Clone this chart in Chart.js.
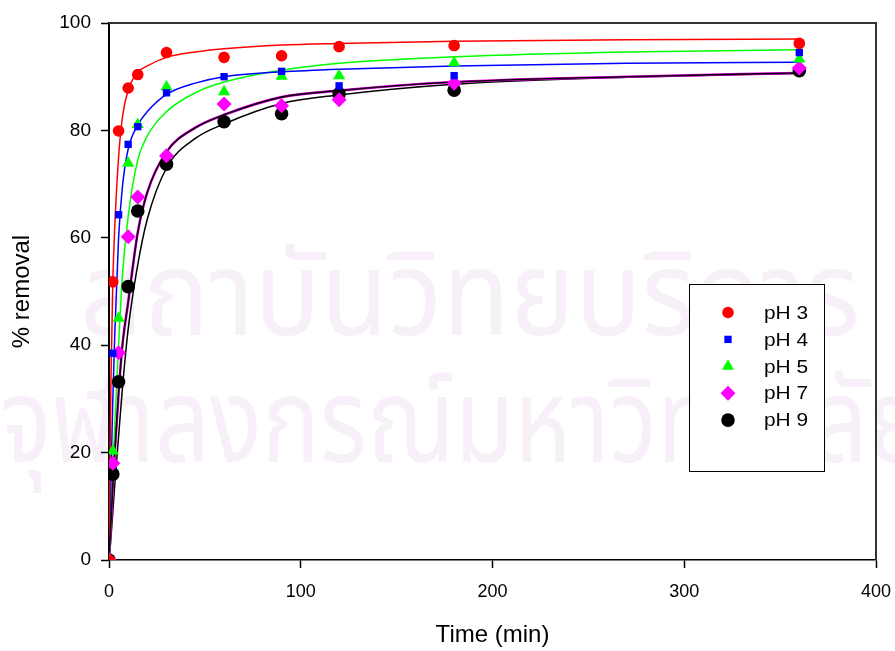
<!DOCTYPE html>
<html><head><meta charset="utf-8">
<script src="https://cdn.jsdelivr.net/npm/chart.js@4.4.1/dist/chart.umd.min.js"></script>
<style>html,body{margin:0;padding:0;background:#fff;overflow:hidden}</style>
</head><body>
<canvas id="c" width="895" height="651"></canvas>
<script>
// ---- data ----
const seriesNames = ['pH 3', 'pH 4', 'pH 5', 'pH 7', 'pH 9'];
const times = [0, 2, 5, 10, 15, 30, 60, 90, 120, 180, 360];
const pH3 = [0, 51.8, 79.9, 87.9, 90.4, 94.5, 93.6, 93.9, 95.6, 95.8, 96.2];
const pH4 = [0, 38.5, 64.3, 77.4, 80.7, 87.0, 90.0, 91.0, 88.3, 90.2, 94.5];
const pH5 = [0, 20.3, 45.0, 73.9, 81.1, 88.1, 87.2, 90.1, 90.2, 92.6, 93.3];
const pH7 = [0, 18.0, 38.6, 60.2, 67.6, 75.3, 84.9, 84.6, 85.7, 88.8, 91.6];
const pH9 = [0, 16.0, 33.2, 50.9, 65.0, 73.7, 81.6, 83.1, 86.8, 87.5, 91.1];

// fitted curves at these times
const curveTimes = [0, 1, 2, 3, 5, 7, 10, 15, 20, 30, 45, 60, 90, 120, 180, 270, 360];
const fit3 = [0, 33, 52, 62, 75, 82.5, 87.5, 90.8, 92.0, 93.6, 94.6, 95.2, 95.9, 96.2, 96.6, 96.9, 97.0];
const fit4 = [0, 15, 30, 42, 60, 69.5, 76.5, 81.0, 83.5, 86.7, 88.8, 90.0, 90.9, 91.4, 92.0, 92.5, 92.7];
const fit5 = [0, 8, 17, 25, 40, 53, 64, 74.5, 79, 83.5, 87, 89, 91.2, 92.5, 93.7, 94.6, 95.0];
const fit7 = [0, 7, 14, 20, 31, 40, 48, 61, 68.5, 76, 80.5, 82.9, 86.2, 87.4, 89.0, 90.0, 90.7];
const fit9 = [0, 4, 9, 14, 23, 32, 43, 55, 63.5, 73, 78.5, 81.2, 85.0, 86.6, 88.6, 89.9, 90.6];

const xTicks = [0, 100, 200, 300, 400];
const yTicks = [0, 20, 40, 60, 80, 100];
const xTitle = 'Time (min)';
const yTitle = '% removal';
const watermark = ['สถาบันวิทยบริการ', 'จุฬาลงกรณ์มหาวิทยาลัย'];

// ---- build datasets ----
const pts = (xs, ys) => xs.map((x, i) => ({x, y: ys[i]}));
const markerStyles = [
  {color: '#ff0000', style: 'circle', r: 5.8},
  {color: '#0000ff', style: 'rect', r: 5.2},
  {color: '#00ff00', style: 'triangle', r: 7},
  {color: '#ff00ff', style: 'rectRot', r: 7.5},
  {color: '#000000', style: 'circle', r: 6.8}
];
const pointSeries = [pH3, pH4, pH5, pH7, pH9];
const fitSeries = [fit3, fit4, fit5, fit7, fit9];
const fitColors = ['#ff0000', '#0000ff', '#00ff00', '#ff00ff', '#000000'];

const datasets = [];
fitSeries.forEach((f, i) => {
  datasets.push({
    label: seriesNames[i] + ' fit', data: pts(curveTimes, f), showLine: true,
    borderColor: fitColors[i], borderWidth: i === 3 ? 2.6 : 1.5, pointRadius: 0,
    cubicInterpolationMode: 'monotone', order: 2
  });
});
// dark core of the pH 7 curve
datasets.push({
  label: 'pH 7 fit core', data: pts(curveTimes, fit7), showLine: true,
  borderColor: '#100010', borderWidth: 1.6, pointRadius: 0,
  cubicInterpolationMode: 'monotone', order: 1
});
pointSeries.forEach((s, i) => {
  const m = markerStyles[i];
  datasets.push({
    label: seriesNames[i], data: pts(times, s), showLine: false,
    pointStyle: m.style, pointRadius: m.r, pointBackgroundColor: m.color,
    pointBorderWidth: 0, backgroundColor: m.color, borderColor: m.color, order: 0
  });
});

// ---- plugins ----
const watermarkPlugin = {
  id: 'watermark',
  beforeDraw(chart) {
    const ctx = chart.ctx;
    ctx.save();
    ctx.fillStyle = 'rgb(248,240,248)';
    ctx.textBaseline = 'alphabetic';
    ctx.font = '118px "Noto Sans Thai", "Noto Sans", sans-serif';
    const spans = [[80, 860, 335], [0, 925, 462]];
    watermark.forEach((t, i) => {
      const [x0, x1, y] = spans[i];
      const w = ctx.measureText(t).width;
      ctx.save();
      ctx.translate(x0, y);
      ctx.scale((x1 - x0) / w, 1);
      ctx.fillText(t, 0, 0);
      ctx.restore();
    });
    ctx.restore();
  }
};
const framePlugin = {
  id: 'frame',
  afterDatasetsDraw(chart) {
    const {ctx, chartArea: a} = chart;
    ctx.save();
    ctx.strokeStyle = '#333';
    ctx.lineWidth = 2;
    ctx.beginPath();
    ctx.moveTo(a.left, a.top);
    ctx.lineTo(a.right, a.top);
    ctx.lineTo(a.right, a.bottom);
    ctx.stroke();
    ctx.restore();
  }
};
const legendPlugin = {
  id: 'boxLegend',
  afterDraw(chart) {
    const ctx = chart.ctx;
    const bx = 689.5, by = 284.5, bw = 135, bh = 187;
    ctx.save();
    ctx.fillStyle = '#fff';
    ctx.fillRect(bx, by, bw, bh);
    ctx.strokeStyle = '#000';
    ctx.lineWidth = 1;
    ctx.strokeRect(bx, by, bw, bh);
    seriesNames.forEach((name, i) => {
      const m = markerStyles[i];
      const y = 312.5 + i * 26.9;
      ctx.fillStyle = m.color;
      Chart.helpers.drawPoint(ctx, {pointStyle: m.style, radius: m.r, rotation: 0, borderWidth: 0}, 728, y);
      ctx.fillStyle = '#000';
      ctx.font = '19px "Liberation Sans", Arial, sans-serif';
      ctx.textBaseline = 'middle';
      ctx.save();
      ctx.translate(764, y);
      ctx.scale(1.1, 1);
      ctx.fillText(name, 0, 1);
      ctx.restore();
    });
    ctx.restore();
  }
};

const FONT = '"Liberation Sans", Arial, sans-serif';
new Chart(document.getElementById('c'), {
  type: 'scatter',
  data: {datasets},
  options: {
    responsive: false,
    animation: false,
    devicePixelRatio: 1,
    layout: {padding: {left: 0, right: 19, top: 23, bottom: 0}},
    plugins: {legend: {display: false}, tooltip: {enabled: false}},
    elements: {line: {fill: false}},
    scales: {
      x: {
        type: 'linear', min: 0, max: 400,
        afterBuildTicks: s => { s.ticks = xTicks.map(v => ({value: v})); },
        afterFit: s => { s.height = 91; s.paddingLeft = 0; s.paddingRight = 0; },
        grid: {drawOnChartArea: false, drawTicks: true, tickLength: 8, tickColor: '#000', tickWidth: 1.5},
        border: {display: true, color: '#000', width: 1.5},
        ticks: {color: '#000', padding: 13, maxRotation: 0, font: {family: FONT, size: 18}},
        title: {display: true, text: xTitle, color: '#000', padding: {top: 0, bottom: 1},
          font: {family: FONT, size: 24}}
      },
      y: {
        type: 'linear', min: 0, max: 100,
        afterBuildTicks: s => { s.ticks = yTicks.map(v => ({value: v})); },
        afterFit: s => { s.width = 109; s.paddingTop = 0; s.paddingBottom = 0; },
        grid: {drawOnChartArea: false, drawTicks: true, tickLength: 8, tickColor: '#000', tickWidth: 1.5},
        border: {display: true, color: '#000', width: 2},
        ticks: {color: '#000', padding: 10, font: {family: FONT, size: 19}},
        title: {display: true, text: yTitle, color: '#000', padding: {top: 8, bottom: 0},
          font: {family: FONT, size: 24}}
      }
    }
  },
  plugins: [watermarkPlugin, framePlugin, legendPlugin]
});
</script>
</body></html>
